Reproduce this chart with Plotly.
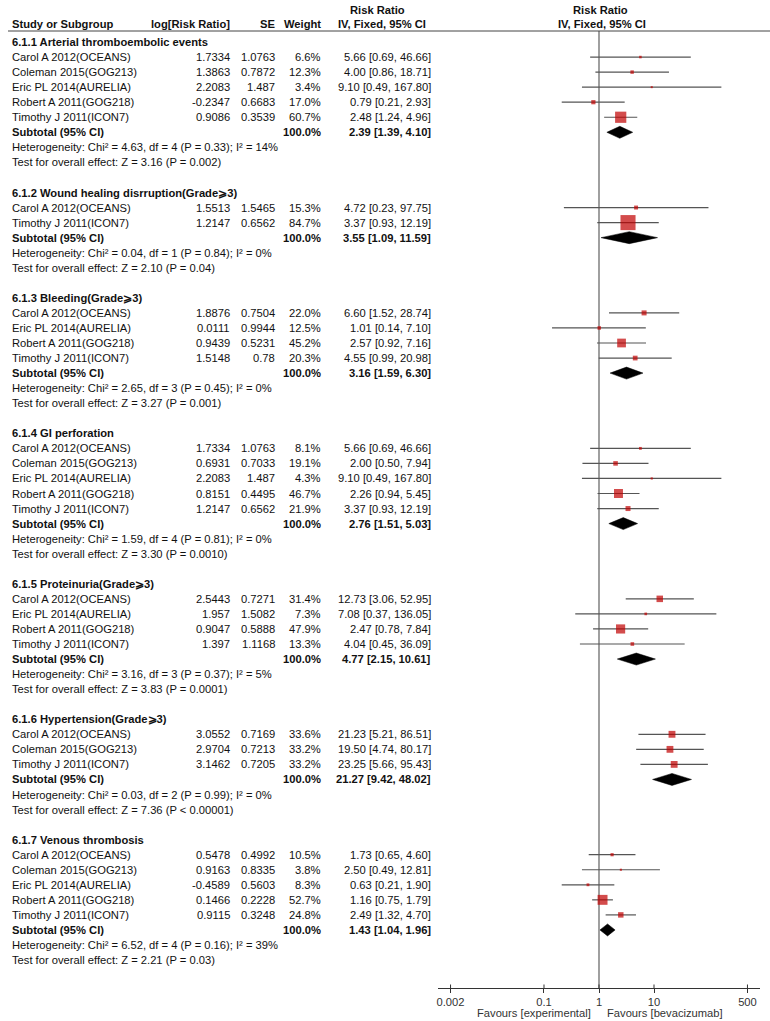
import math
import plotly.graph_objects as go

# ---------------- data ----------------
section_titles = [
    "6.1.1 Arterial thromboembolic events",
    "6.1.2 Wound healing disrruption(Grade⩾3)",
    "6.1.3 Bleeding(Grade⩾3)",
    "6.1.4 GI perforation",
    "6.1.5 Proteinuria(Grade⩾3)",
    "6.1.6 Hypertension(Grade⩾3)",
    "6.1.7 Venous thrombosis",
]

study_names = [
    ["Carol A 2012(OCEANS)", "Coleman 2015(GOG213)", "Eric PL 2014(AURELIA)", "Robert A 2011(GOG218)", "Timothy J 2011(ICON7)"],
    ["Carol A 2012(OCEANS)", "Timothy J 2011(ICON7)"],
    ["Carol A 2012(OCEANS)", "Eric PL 2014(AURELIA)", "Robert A 2011(GOG218)", "Timothy J 2011(ICON7)"],
    ["Carol A 2012(OCEANS)", "Coleman 2015(GOG213)", "Eric PL 2014(AURELIA)", "Robert A 2011(GOG218)", "Timothy J 2011(ICON7)"],
    ["Carol A 2012(OCEANS)", "Eric PL 2014(AURELIA)", "Robert A 2011(GOG218)", "Timothy J 2011(ICON7)"],
    ["Carol A 2012(OCEANS)", "Coleman 2015(GOG213)", "Timothy J 2011(ICON7)"],
    ["Carol A 2012(OCEANS)", "Coleman 2015(GOG213)", "Eric PL 2014(AURELIA)", "Robert A 2011(GOG218)", "Timothy J 2011(ICON7)"],
]

log_rr = [
    ["1.7334", "1.3863", "2.2083", "-0.2347", "0.9086"],
    ["1.5513", "1.2147"],
    ["1.8876", "0.0111", "0.9439", "1.5148"],
    ["1.7334", "0.6931", "2.2083", "0.8151", "1.2147"],
    ["2.5443", "1.957", "0.9047", "1.397"],
    ["3.0552", "2.9704", "3.1462"],
    ["0.5478", "0.9163", "-0.4589", "0.1466", "0.9115"],
]

se_vals = [
    ["1.0763", "0.7872", "1.487", "0.6683", "0.3539"],
    ["1.5465", "0.6562"],
    ["0.7504", "0.9944", "0.5231", "0.78"],
    ["1.0763", "0.7033", "1.487", "0.4495", "0.6562"],
    ["0.7271", "1.5082", "0.5888", "1.1168"],
    ["0.7169", "0.7213", "0.7205"],
    ["0.4992", "0.8335", "0.5603", "0.2228", "0.3248"],
]

weights = [
    [6.6, 12.3, 3.4, 17.0, 60.7],
    [15.3, 84.7],
    [22.0, 12.5, 45.2, 20.3],
    [8.1, 19.1, 4.3, 46.7, 21.9],
    [31.4, 7.3, 47.9, 13.3],
    [33.6, 33.2, 33.2],
    [10.5, 3.8, 8.3, 52.7, 24.8],
]

risk_ratio = [
    [5.66, 4.00, 9.10, 0.79, 2.48],
    [4.72, 3.37],
    [6.60, 1.01, 2.57, 4.55],
    [5.66, 2.00, 9.10, 2.26, 3.37],
    [12.73, 7.08, 2.47, 4.04],
    [21.23, 19.50, 23.25],
    [1.73, 2.50, 0.63, 1.16, 2.49],
]

ci_low = [
    [0.69, 0.86, 0.49, 0.21, 1.24],
    [0.23, 0.93],
    [1.52, 0.14, 0.92, 0.99],
    [0.69, 0.50, 0.49, 0.94, 0.93],
    [3.06, 0.37, 0.78, 0.45],
    [5.21, 4.74, 5.66],
    [0.65, 0.49, 0.21, 0.75, 1.32],
]

ci_high = [
    [46.66, 18.71, 167.80, 2.93, 4.96],
    [97.75, 12.19],
    [28.74, 7.10, 7.16, 20.98],
    [46.66, 7.94, 167.80, 5.45, 12.19],
    [52.95, 136.05, 7.84, 36.09],
    [86.51, 80.17, 95.43],
    [4.60, 12.81, 1.90, 1.79, 4.70],
]

subtotal_rr = [2.39, 3.55, 3.16, 2.76, 4.77, 21.27, 1.43]
subtotal_low = [1.39, 1.09, 1.59, 1.51, 2.15, 9.42, 1.04]
subtotal_high = [4.10, 11.59, 6.30, 5.03, 10.61, 48.02, 1.96]

heterogeneity = [
    "Heterogeneity: Chi² = 4.63, df = 4 (P = 0.33); I² = 14%",
    "Heterogeneity: Chi² = 0.04, df = 1 (P = 0.84); I² = 0%",
    "Heterogeneity: Chi² = 2.65, df = 3 (P = 0.45); I² = 0%",
    "Heterogeneity: Chi² = 1.59, df = 4 (P = 0.81); I² = 0%",
    "Heterogeneity: Chi² = 3.16, df = 3 (P = 0.37); I² = 5%",
    "Heterogeneity: Chi² = 0.03, df = 2 (P = 0.99); I² = 0%",
    "Heterogeneity: Chi² = 6.52, df = 4 (P = 0.16); I² = 39%",
]

overall_effect = [
    "Test for overall effect: Z = 3.16 (P = 0.002)",
    "Test for overall effect: Z = 2.10 (P = 0.04)",
    "Test for overall effect: Z = 3.27 (P = 0.001)",
    "Test for overall effect: Z = 3.30 (P = 0.0010)",
    "Test for overall effect: Z = 3.83 (P = 0.0001)",
    "Test for overall effect: Z = 7.36 (P < 0.00001)",
    "Test for overall effect: Z = 2.21 (P = 0.03)",
]

tick_vals = [0.002, 0.1, 1, 10, 500]
tick_labels = ["0.002", "0.1", "1", "10", "500"]

# ---------------- layout helpers ----------------
PAGE_W, PAGE_H = 770, 1021
FW, FH = PAGE_W, PAGE_H
ROW0, PITCH = 42.0, 15.05
FONT = "Liberation Sans, Arial, sans-serif"
TXT = "#111111"
FS = 11.2


def prow(p):
    """page pixel (y) -> row coordinate"""
    return (p - ROW0) / PITCH


def px(x):
    """page pixel (x) -> paper fraction"""
    return x / FW


def py(y):
    """page pixel (y) -> paper fraction (from bottom)"""
    return (PAGE_H - y) / FH


X_NAME, X_LOG, X_SE, X_W, X_CI = 10, 232, 277, 323, 433

annotations = []


def ann(text, x, y, anchor="left", bold=False, yref="y", xref="paper", **kw):
    annotations.append(dict(
        text=("<b>%s</b>" % text) if bold else text,
        x=x, y=y, xref=xref, yref=yref, xanchor=anchor, yanchor="middle",
        showarrow=False, font=dict(family=FONT, size=FS, color=TXT), **kw))


def ci_text(r, lo, hi):
    return "%.2f [%.2f, %.2f]" % (r, lo, hi)


# header
ann("Study or Subgroup", px(X_NAME), prow(24), "left", True)
ann("log[Risk Ratio]", px(X_LOG), prow(24), "right", True)
ann("SE", px(X_SE), prow(24), "right", True)
ann("Weight", px(X_W), prow(24), "right", True)
ann("Risk Ratio", px(377), prow(10), "center", True)
ann("IV, Fixed, 95% CI", px(382), prow(24), "center", True)
ann("Risk Ratio", px(600), prow(10), "center", True)
ann("IV, Fixed, 95% CI", px(602), prow(24), "center", True)

fig = go.Figure()

ci_x, ci_y = [], []
sq_x, sq_y, sq_s = [], [], []
diamonds = []

r = 0
for s, title in enumerate(section_titles):
    ann(title, px(X_NAME), r, "left", True)
    n = len(study_names[s])
    for i in range(n):
        rr_ = r + 1 + i
        ann(study_names[s][i], px(X_NAME), rr_, "left")
        ann(log_rr[s][i], px(X_LOG), rr_, "right")
        ann(se_vals[s][i], px(X_SE), rr_, "right")
        ann("%.1f%%" % weights[s][i], px(X_W), rr_, "right")
        ann(ci_text(risk_ratio[s][i], ci_low[s][i], ci_high[s][i]), px(X_CI), rr_, "right")
        ci_x += [ci_low[s][i], ci_high[s][i], None]
        ci_y += [rr_, rr_, None]
        sq_x.append(risk_ratio[s][i])
        sq_y.append(rr_)
        sq_s.append(1.5 + 0.16 * weights[s][i])
    sr = r + n + 1
    ann("Subtotal (95% CI)", px(X_NAME), sr, "left", True)
    ann("100.0%", px(X_W), sr, "right", True)
    ann(ci_text(subtotal_rr[s], subtotal_low[s], subtotal_high[s]), px(X_CI), sr, "right", True)
    diamonds.append((s, sr))
    ann(heterogeneity[s], px(X_NAME), sr + 1, "left")
    ann(overall_effect[s], px(X_NAME), sr + 2, "left")
    r += n + 5

# vertical line of no effect
fig.add_trace(go.Scatter(x=[1, 1], y=[prow(31), prow(988)], mode="lines",
                         line=dict(color="#888888", width=1.6), hoverinfo="skip", showlegend=False))

# confidence interval lines
fig.add_trace(go.Scatter(x=ci_x, y=ci_y, mode="lines", line=dict(color="#555555", width=1.2),
                         hoverinfo="skip", showlegend=False))

# squares
fig.add_trace(go.Scatter(x=sq_x, y=sq_y, mode="markers",
                         marker=dict(symbol="square", size=sq_s, color="#c00000",
                                     line=dict(width=0)),
                         hoverinfo="skip", showlegend=False))

# diamonds
HALF = 6.0 / PITCH
for s, sr in diamonds:
    fig.add_trace(go.Scatter(
        x=[subtotal_low[s], subtotal_rr[s], subtotal_high[s], subtotal_rr[s], subtotal_low[s]],
        y=[sr, sr - HALF, sr, sr + HALF, sr],
        mode="lines", fill="toself", fillcolor="#000000", line=dict(color="#000000", width=0.5),
        hoverinfo="skip", showlegend=False))

# tick marks above axis line (ticks cross the line)
tk_x, tk_y = [], []
for v in tick_vals:
    tk_x += [v, v, None]
    tk_y += [prow(988), prow(984.5), None]
fig.add_trace(go.Scatter(x=tk_x, y=tk_y, mode="lines", line=dict(color="#333333", width=1),
                         hoverinfo="skip", showlegend=False))

# favours labels
annotations.append(dict(text="Favours [experimental]", x=math.log10(1), xref="x", y=prow(1013), yref="y",
                        xanchor="right", yanchor="middle", xshift=-6, showarrow=False,
                        font=dict(family=FONT, size=FS, color="#333333")))
annotations.append(dict(text="Favours [bevacizumab]", x=math.log10(1), xref="x", y=prow(1013), yref="y",
                        xanchor="left", yanchor="middle", xshift=6, showarrow=False,
                        font=dict(family=FONT, size=FS, color="#333333")))

shapes = [dict(type="line", xref="paper", yref="paper", x0=px(8), x1=1.0,
               y0=py(31), y1=py(31), line=dict(color="#444444", width=1))]

fig.update_layout(
    width=FW, height=FH,
    margin=dict(l=0, r=0, t=0, b=0),
    paper_bgcolor="white", plot_bgcolor="white",
    showlegend=False,
    hovermode=False,
    annotations=annotations,
    shapes=shapes,
    xaxis=dict(type="log", range=[-2.927, 2.927], domain=[px(438), px(760)],
               anchor="free", position=py(988),
               showline=True, linecolor="#333333", linewidth=1,
               ticks="outside", ticklen=4, tickcolor="#333333", tickwidth=1,
               tickvals=tick_vals, ticktext=tick_labels,
               tickfont=dict(family=FONT, size=FS, color="#333333"),
               showgrid=False, zeroline=False, fixedrange=True),
    yaxis=dict(range=[prow(PAGE_H), prow(0)], domain=[0, 1], visible=False,
               showgrid=False, zeroline=False, fixedrange=True),
)

fig.write_html("out.html",
               config={"displayModeBar": False, "staticPlot": True},
               post_script="document.body.style.margin='0';document.body.style.overflow='hidden';")
